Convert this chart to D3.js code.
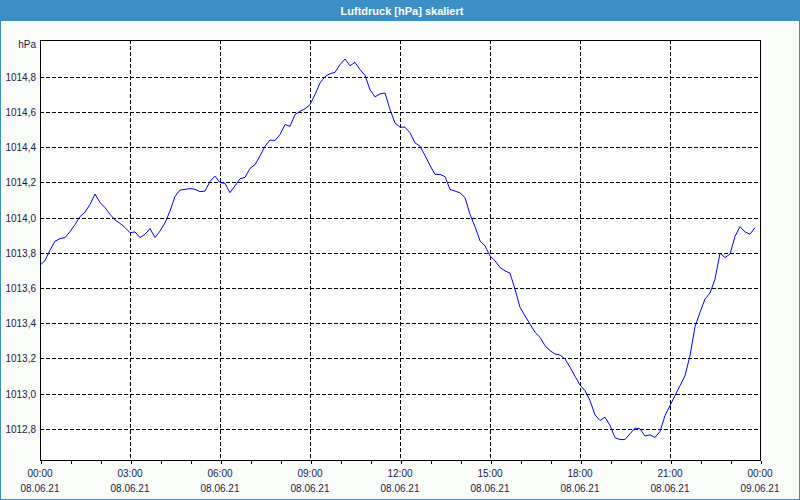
<!DOCTYPE html>
<html><head><meta charset="utf-8">
<script src="https://cdn.jsdelivr.net/npm/d3@7"></script>
<style>
html,body{margin:0;padding:0;background:#fff;}
svg{display:block;}
</style></head>
<body>
<svg id="chart" width="800" height="500"></svg>
<script>
const title = "Luftdruck [hPa] skaliert";
const unitLabel = "hPa";
const dayStart = "2021-06-08 00:00";
const dayEnd = "2021-06-09 00:00";
const times = [
"00:00","00:10","00:20","00:30","00:40","00:50","01:00","01:10","01:20","01:30","01:40","01:50",
"02:00","02:10","02:20","02:30","02:40","02:50","03:00","03:10","03:20","03:30","03:40","03:50",
"04:00","04:10","04:20","04:30","04:40","04:50","05:00","05:10","05:20","05:30","05:40","05:50",
"06:00","06:10","06:20","06:30","06:40","06:50","07:00","07:10","07:20","07:30","07:40","07:50",
"08:00","08:10","08:20","08:30","08:40","08:50","09:00","09:10","09:20","09:30","09:40","09:50",
"10:00","10:10","10:20","10:30","10:40","10:50","11:00","11:10","11:20","11:30","11:40","11:50",
"12:00","12:10","12:20","12:30","12:40","12:50","13:00","13:10","13:20","13:30","13:40","13:50",
"14:00","14:10","14:20","14:30","14:40","14:50","15:00","15:10","15:20","15:30","15:40","15:50",
"16:00","16:10","16:20","16:30","16:40","16:50","17:00","17:10","17:20","17:30","17:40","17:50",
"18:00","18:10","18:20","18:30","18:40","18:50","19:00","19:10","19:20","19:30","19:40","19:50",
"20:00","20:10","20:20","20:30","20:40","20:50","21:00","21:10","21:20","21:30","21:40","21:50",
"22:00","22:10","22:20","22:30","22:40","22:50","23:00","23:10","23:20","23:30","23:40","23:50"
];
const pressure = [
1013.729,1013.755,1013.815,1013.865,1013.880,1013.886,1013.920,1013.960,1014.005,1014.030,1014.075,1014.133,
1014.085,1014.056,1014.018,1013.986,1013.967,1013.943,1013.914,1013.918,1013.886,1013.905,1013.937,1013.886,
1013.923,1013.970,1014.037,1014.120,1014.156,1014.160,1014.164,1014.160,1014.147,1014.150,1014.205,1014.235,
1014.198,1014.194,1014.141,1014.180,1014.220,1014.228,1014.279,1014.300,1014.350,1014.405,1014.440,1014.437,
1014.471,1014.528,1014.518,1014.585,1014.603,1014.617,1014.641,1014.698,1014.764,1014.800,1014.817,1014.824,
1014.868,1014.900,1014.862,1014.881,1014.840,1014.807,1014.726,1014.685,1014.702,1014.707,1014.613,1014.537,
1014.513,1014.513,1014.481,1014.424,1014.405,1014.352,1014.296,1014.245,1014.245,1014.232,1014.160,1014.150,
1014.140,1014.113,1014.018,1013.948,1013.867,1013.839,1013.782,1013.754,1013.716,1013.697,1013.684,1013.593,
1013.490,1013.442,1013.395,1013.348,1013.320,1013.272,1013.244,1013.225,1013.219,1013.197,1013.150,1013.099,
1013.049,1013.017,1012.960,1012.879,1012.847,1012.866,1012.819,1012.750,1012.739,1012.739,1012.772,1012.804,
1012.800,1012.759,1012.766,1012.751,1012.785,1012.875,1012.932,1012.989,1013.045,1013.102,1013.215,1013.380,
1013.461,1013.537,1013.571,1013.650,1013.797,1013.773,1013.792,1013.892,1013.948,1013.918,1013.905,1013.943
];
const yTicks = [1012.8,1013.0,1013.2,1013.4,1013.6,1013.8,1014.0,1014.2,1014.4,1014.6,1014.8];
const xTickTimes = ["00:00","03:00","06:00","09:00","12:00","15:00","18:00","21:00","00:00"];
const xTickDates = ["08.06.21","08.06.21","08.06.21","08.06.21","08.06.21","08.06.21","08.06.21","08.06.21","09.06.21"];
const yDomain = [1012.623, 1015.008];

const W = 800, H = 500;
const plot = {left: 40, right: 760, top: 40, bottom: 460};
const font = "'Liberation Sans', Arial, sans-serif";
const textColor = "#1a1a48";

const parse = d3.timeParse("%Y-%m-%d %H:%M");
const t0 = parse(dayStart), t1 = parse(dayEnd);
const data = times.map((t, i) => ({date: parse("2021-06-08 " + t), value: pressure[i]}));

const x = d3.scaleTime().domain([t0, t1]).range([plot.left, plot.right]);
const y = d3.scaleLinear().domain(yDomain).range([plot.bottom, plot.top]);

const svg = d3.select("#chart");

// background
svg.append("rect").attr("x",0).attr("y",0).attr("width",W).attr("height",H).attr("fill","#f9fcf9");
// outer border
svg.append("rect").attr("x",0.5).attr("y",0.5).attr("width",W-1).attr("height",H-1)
  .attr("fill","none").attr("stroke","#3c8fc5").attr("stroke-width",1);
// title bar
svg.append("rect").attr("x",0).attr("y",0).attr("width",W).attr("height",21).attr("fill","#3c8fc5");
svg.append("text").attr("x",402).attr("y",14.5).attr("text-anchor","middle")
  .attr("font-family",font).attr("font-size",11).attr("font-weight","bold")
  .attr("fill","#ffffff").text(title);

// plot area
svg.append("rect").attr("x",plot.left).attr("y",plot.top)
  .attr("width",plot.right-plot.left).attr("height",plot.bottom-plot.top).attr("fill","#ffffff");

// horizontal grid
svg.append("g").selectAll("line").data(yTicks).join("line")
  .attr("x1",plot.left).attr("x2",plot.right)
  .attr("y1",d=>Math.round(y(d))+0.5).attr("y2",d=>Math.round(y(d))+0.5)
  .attr("stroke","#000").attr("stroke-width",1).attr("stroke-dasharray","4,2")
  .attr("shape-rendering","crispEdges");

// vertical grid every 3h
const xGrid = d3.timeHour.every(3).range(t0, t1).filter(d => +d !== +t0);
svg.append("g").selectAll("line").data(xGrid).join("line")
  .attr("x1",d=>Math.round(x(d))+0.5).attr("x2",d=>Math.round(x(d))+0.5)
  .attr("y1",plot.top).attr("y2",plot.bottom)
  .attr("stroke","#000").attr("stroke-width",1).attr("stroke-dasharray","4,2")
  .attr("shape-rendering","crispEdges");

// line
const line = d3.line().x(d=>x(d.date)).y(d=>y(d.value));
svg.append("path").datum(data).attr("d",line).attr("fill","none")
  .attr("stroke","#0000ff").attr("stroke-width",1);

// plot frame
svg.append("rect").attr("x",plot.left+0.5).attr("y",plot.top+0.5)
  .attr("width",plot.right-plot.left).attr("height",plot.bottom-plot.top)
  .attr("fill","none").attr("stroke","#000").attr("stroke-width",1)
  .attr("shape-rendering","crispEdges");

// x axis minor ticks (hourly)
const xAxis = d3.axisBottom(x).ticks(d3.timeHour.every(1)).tickSize(3).tickFormat("");
const gx = svg.append("g").attr("transform",`translate(0.5,${plot.bottom+0.5})`).call(xAxis);
gx.select(".domain").remove();
gx.selectAll("line").attr("stroke","#000").attr("shape-rendering","crispEdges");

// x labels
const xLabelDates = d3.timeHour.every(3).range(t0, d3.timeMinute.offset(t1,1));
const xl = svg.append("g");
xl.selectAll("text.t").data(xLabelDates).join("text").attr("class","t")
  .attr("x",d=>x(d)).attr("y",477).attr("text-anchor","middle")
  .attr("font-family",font).attr("font-size",10).attr("fill",textColor)
  .text((d,i)=>xTickTimes[i]);
xl.selectAll("text.d").data(xLabelDates).join("text").attr("class","d")
  .attr("x",d=>x(d)).attr("y",492).attr("text-anchor","middle")
  .attr("font-family",font).attr("font-size",10).attr("fill",textColor)
  .text((d,i)=>xTickDates[i]);

// y labels
const fmt = v => d3.format(".1f")(v).replace(".", ",");
svg.append("g").selectAll("text").data(yTicks).join("text")
  .attr("x",36).attr("y",d=>Math.round(y(d))+4).attr("text-anchor","end")
  .attr("font-family",font).attr("font-size",10).attr("fill",textColor)
  .text(fmt);
svg.append("text").attr("x",36).attr("y",48).attr("text-anchor","end")
  .attr("font-family",font).attr("font-size",10).attr("fill",textColor).text(unitLabel);
</script>
</body></html>
